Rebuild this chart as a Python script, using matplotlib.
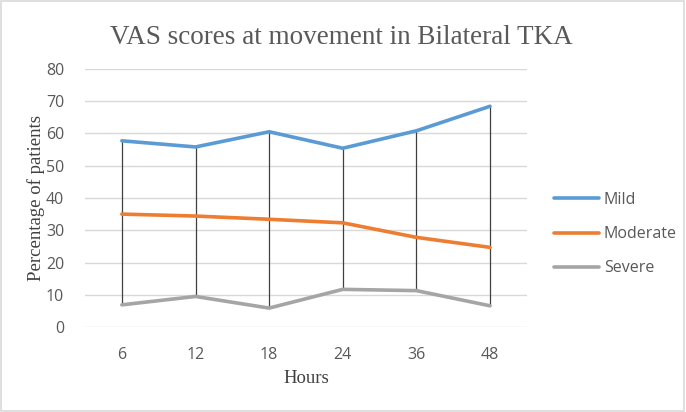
import numpy as np
import matplotlib
matplotlib.use("Agg")
from matplotlib import pyplot as plt

hours = ["6", "12", "18", "24", "36", "48"]
mild = [57.7, 55.8, 60.5, 55.4, 60.8, 68.4]
moderate = [35.0, 34.4, 33.4, 32.3, 27.8, 24.7]
severe = [6.9, 9.5, 5.9, 11.7, 11.3, 6.6]

series = [("Mild", mild, "#5b9bd5"),
          ("Moderate", moderate, "#ed7d31"),
          ("Severe", severe, "#a5a5a5")]

fig = plt.figure(figsize=(6.86, 4.12), dpi=100)
ax = fig.add_axes([0.124, 0.206, 0.644, 0.627])

x = np.arange(len(hours))

# high-low lines
lows = np.min([mild, moderate, severe], axis=0)
highs = np.max([mild, moderate, severe], axis=0)
ax.vlines(x, lows, highs, color="#404040", lw=0.9, zorder=2)

for name, vals, col in series:
    ax.plot(x, vals, color=col, lw=2.6, label=name, zorder=3, solid_capstyle="round")

ax.set_xlim(-0.5, len(hours) - 0.5)
ax.set_ylim(0, 80)
ax.set_yticks(range(0, 81, 10))
ax.set_xticks(x)
ax.set_xticklabels(hours)
ax.grid(axis="y", color="#d9d9d9", lw=1)
ax.set_axisbelow(True)
for s in ax.spines.values():
    s.set_visible(False)
ax.tick_params(length=0, labelsize=11.5, labelcolor="#595959")
ax.tick_params(axis="y", pad=15)
ax.tick_params(axis="x", pad=14)
for lab in ax.get_xticklabels() + ax.get_yticklabels():
    lab.set_family("Open Sans")

ax.set_xlabel("Hours", family="Liberation Serif", fontsize=13.5, color="#404040")
ax.set_ylabel("Percentage of patients", family="Liberation Serif", fontsize=13.5,
              color="#404040")
ax.xaxis.set_label_coords(0.5, -0.165)
ax.yaxis.set_label_coords(-0.09, 0.5)
fig.text(0.497, 0.91, "VAS scores at movement in Bilateral TKA", ha="center", va="center",
         family="Liberation Serif", fontsize=19.5, color="#595959")

leg = ax.legend(loc="center left", bbox_to_anchor=(1.03, 0.36), frameon=False,
                prop={"family": "Open Sans", "size": 11.5}, handlelength=2.8,
                labelspacing=1.15, handletextpad=0.3)
for t in leg.get_texts():
    t.set_color("#595959")

fig.patches.append(plt.Rectangle((0.002, 0.003), 0.995, 0.994, transform=fig.transFigure,
                                 fill=False, edgecolor="#d9d9d9", lw=1.2))

fig.savefig("out.png", dpi=100)
